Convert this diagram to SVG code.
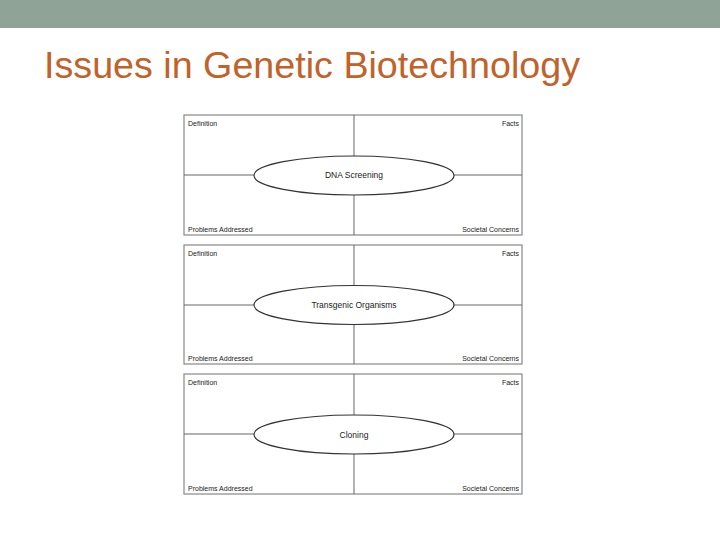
<svg xmlns="http://www.w3.org/2000/svg" width="720" height="540" viewBox="0 0 720 540">
<style>
.f{fill:#fff;stroke:#888;stroke-width:1.2}
.l{stroke:#666;stroke-width:1}
.e{fill:#fff;stroke:#333;stroke-width:1.2}
.t{font-family:"Liberation Sans",Arial,sans-serif;font-size:7px;fill:#222}
.c{font-family:"Liberation Sans",Arial,sans-serif;font-size:8.5px;fill:#222;text-anchor:middle}
</style>
<rect width="720" height="540" fill="#fff"/>
<rect width="720" height="28" fill="#8FA396"/>
<text x="44" y="78" font-family="Liberation Sans,Arial,sans-serif" font-size="36" fill="#C0622A" textLength="536" lengthAdjust="spacingAndGlyphs">Issues in Genetic Biotechnology</text>
<g id="box1">
<rect class="f" x="184" y="115" width="338" height="120"/>
<line class="l" x1="354" y1="115" x2="354" y2="235"/><line class="l" x1="184" y1="175" x2="522" y2="175"/>
<ellipse class="e" cx="354" cy="175.5" rx="100" ry="19.5"/>
<text class="c" x="354" y="178">DNA Screening</text>
<text class="t" x="188" y="126">Definition</text><text class="t" x="519" y="126" text-anchor="end">Facts</text>
<text class="t" x="188" y="232">Problems Addressed</text><text class="t" x="519" y="232" text-anchor="end">Societal Concerns</text>
</g>
<g id="box2">
<rect class="f" x="184" y="245" width="338" height="119"/>
<line class="l" x1="354" y1="245" x2="354" y2="364"/><line class="l" x1="184" y1="305" x2="522" y2="305"/>
<ellipse class="e" cx="354" cy="305" rx="100" ry="19.5"/>
<text class="c" x="354" y="308">Transgenic Organisms</text>
<text class="t" x="188" y="256">Definition</text><text class="t" x="519" y="256" text-anchor="end">Facts</text>
<text class="t" x="188" y="361">Problems Addressed</text><text class="t" x="519" y="361" text-anchor="end">Societal Concerns</text>
</g>
<g id="box3">
<rect class="f" x="184" y="374" width="338" height="120"/>
<line class="l" x1="354" y1="374" x2="354" y2="494"/><line class="l" x1="184" y1="434" x2="522" y2="434"/>
<ellipse class="e" cx="354" cy="434.5" rx="100" ry="19.5"/>
<text class="c" x="354" y="438">Cloning</text>
<text class="t" x="188" y="385">Definition</text><text class="t" x="519" y="385" text-anchor="end">Facts</text>
<text class="t" x="188" y="491">Problems Addressed</text><text class="t" x="519" y="491" text-anchor="end">Societal Concerns</text>
</g>
</svg>
